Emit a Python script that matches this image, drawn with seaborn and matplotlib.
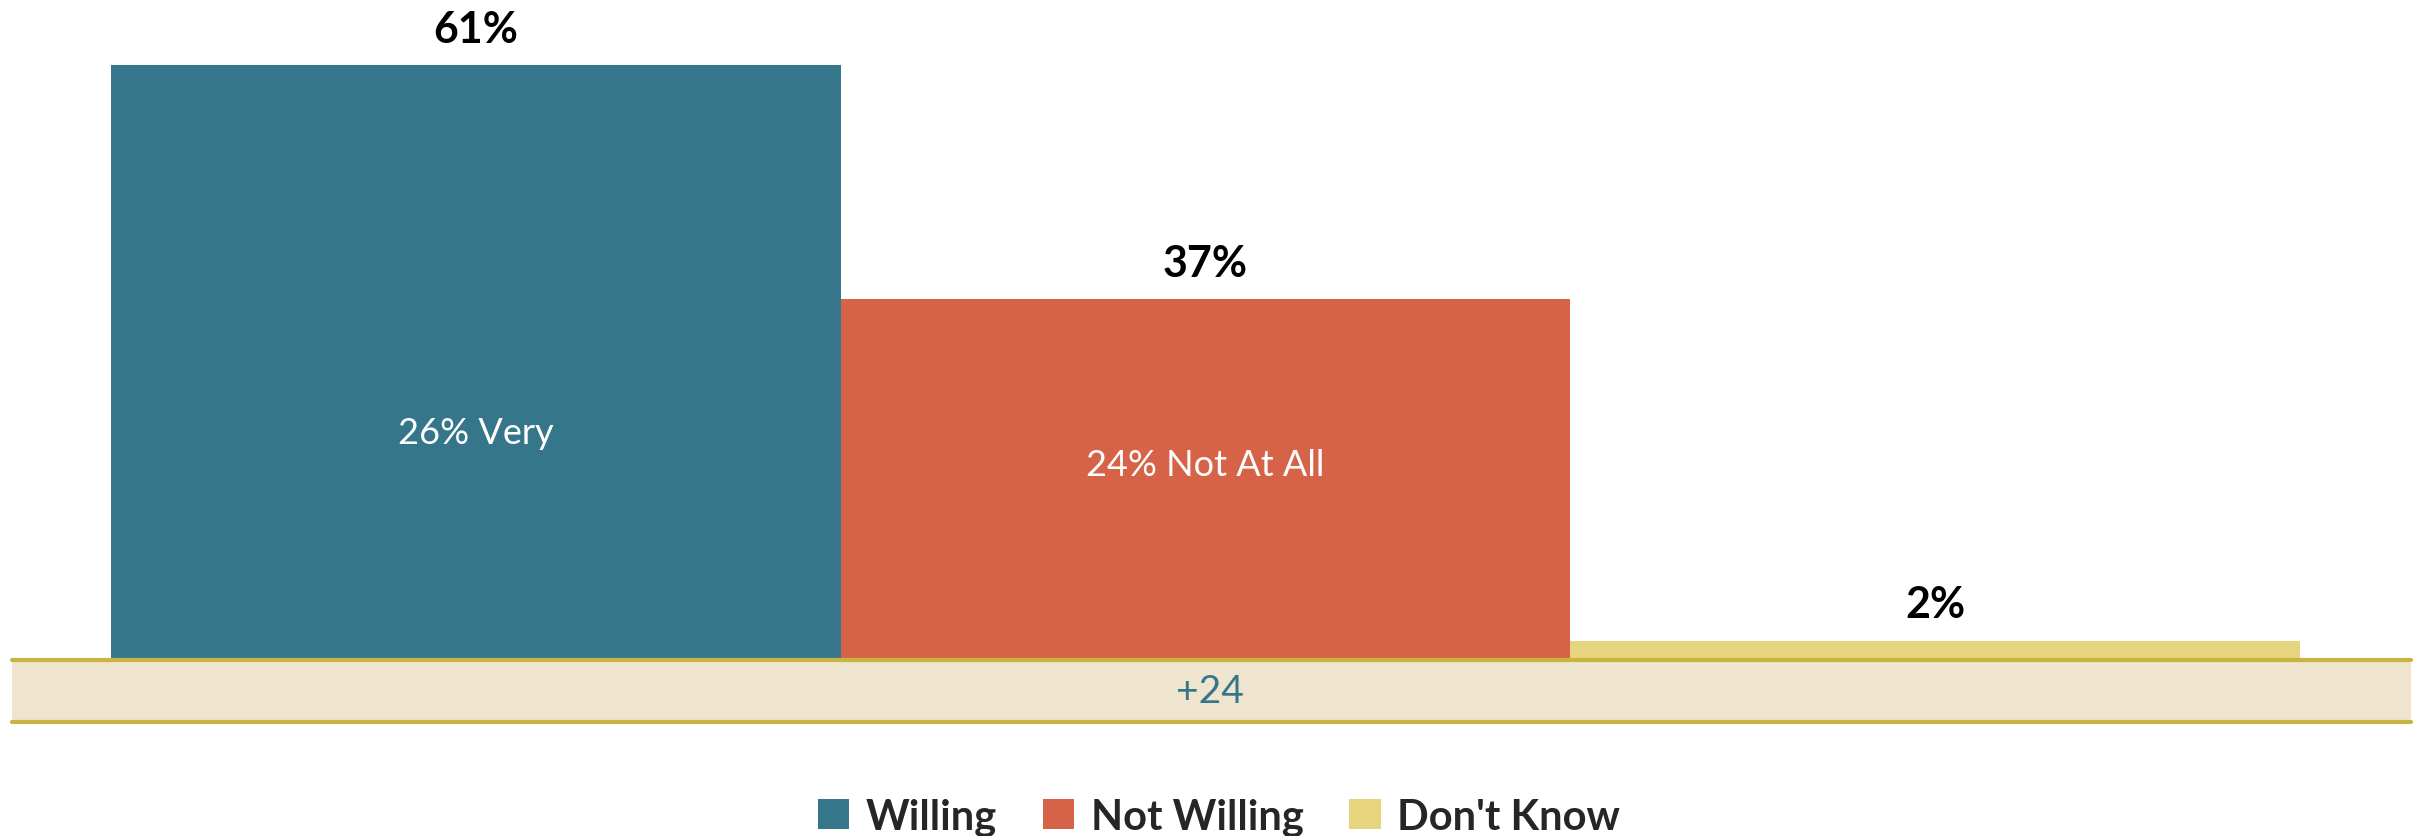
import matplotlib
matplotlib.use("Agg")
import matplotlib.pyplot as plt
import seaborn as sns
from matplotlib.patches import Rectangle, Patch
from matplotlib.lines import Line2D

# Chart data
categories = ["Willing", "Not Willing", "Don't Know"]
values = [61, 37, 2]
value_labels = ["61%", "37%", "2%"]
inner_labels = ["26% Very", "24% Not At All", ""]
inner_label_y = [23.3, 20.1, 0]
net_label = "+24"

colors = ["#36768A", "#D66248", "#E7D47E"]
band_color = "#EFE4CE"
line_color = "#C8B440"

sns.set_theme(style="white")
plt.rcParams["font.family"] = ["Lato", "DejaVu Sans"]

W, H = 2420, 837
fig = plt.figure(figsize=(W / 100, H / 100), dpi=100)

# axes placed so bars span x 111..2300 px, baseline at y=661 px from top
ax = fig.add_axes([111 / W, (H - 661) / H, (2300 - 111) / W, 661 / H])
sns.barplot(x=categories, y=values, hue=categories, palette=colors,
            width=1.0, saturation=1, legend=False, linewidth=0, ax=ax)
ax.set_xlim(-0.5, 2.5)
ax.set_ylim(0, 67.8)
ax.axis("off")

for i, v in enumerate(values):
    ax.annotate(value_labels[i], (i, v), xytext=(0, 12), textcoords="offset points",
                ha="center", va="bottom", fontsize=31, fontweight="bold", color="black")
    if inner_labels[i]:
        ax.text(i, inner_label_y[i], inner_labels[i], ha="center", va="center",
                fontsize=26, color="white")

# net difference band under the bars
band_top = (H - 661) / H
band_bot = (H - 723) / H
fig.patches.append(Rectangle((12 / W, band_bot), (2411 - 12) / W, band_top - band_bot,
                             transform=fig.transFigure, facecolor=band_color,
                             edgecolor="none", zorder=0.5))
for yy in (band_top, band_bot):
    fig.lines.append(Line2D([12 / W, 2411 / W], [yy, yy], transform=fig.transFigure,
                            color=line_color, linewidth=3, zorder=2))
fig.text(1210 / W, (band_top + band_bot) / 2, net_label, ha="center", va="center",
         fontsize=28, color=colors[0])

handles = [Patch(facecolor=c, edgecolor="none") for c in colors]
fig.legend(handles, categories, loc="center", bbox_to_anchor=(1219 / W, 1 - 818 / H),
           ncol=3, frameon=False, handlelength=0.75, handleheight=0.75,
           handletextpad=0.4, columnspacing=1.1,
           prop={"size": 30, "weight": "bold"})

fig.savefig("out.png", dpi=100)
